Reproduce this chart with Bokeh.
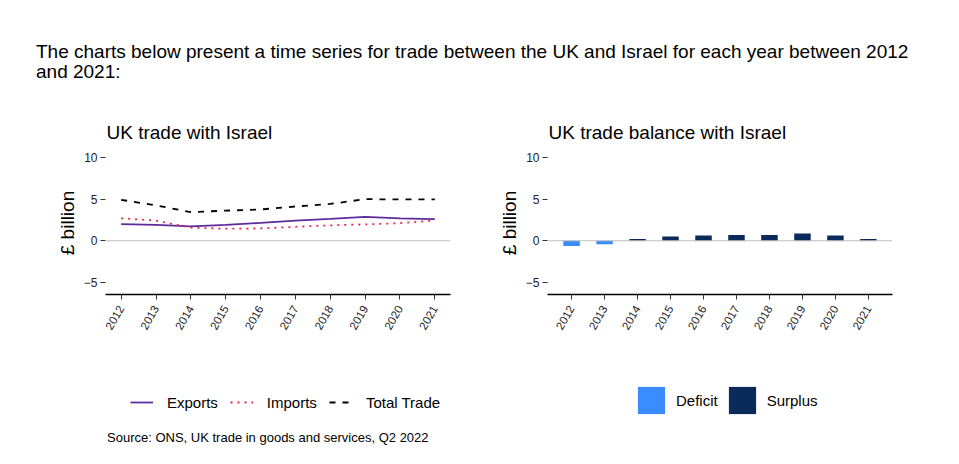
from bokeh.plotting import figure
from bokeh.models import (Div, Span, Legend, LegendItem, FixedTicker, ColumnDataSource,
                          Range1d)
from bokeh.layouts import column, row
from bokeh.transform import factor_cmap
from bokeh.embed import file_html
from bokeh.resources import INLINE

FONT = "Liberation Sans"

years = [2012, 2013, 2014, 2015, 2016, 2017, 2018, 2019, 2020, 2021]
exports = [2.0, 1.9, 1.72, 1.92, 2.15, 2.42, 2.62, 2.88, 2.68, 2.6]
imports = [2.7, 2.42, 1.58, 1.45, 1.48, 1.68, 1.85, 1.97, 2.12, 2.44]
total_trade = [4.92, 4.25, 3.44, 3.62, 3.76, 4.12, 4.42, 5.0, 4.96, 4.96]
balance = [-0.64, -0.42, 0.2, 0.52, 0.64, 0.7, 0.7, 0.88, 0.64, 0.2]
balance_kind = ["Deficit" if b < 0 else "Surplus" for b in balance]
y_ticks = [-5, 0, 5, 10]

TITLE = ("The charts below present a time series for trade between the UK and Israel "
         "for each year between 2012 and 2021:")

EXP_STYLE = dict(line_color="#5e2a9c", line_width=1.8)
IMP_STYLE = dict(line_color="#e8264a", line_width=1.8, line_dash="2 5")
TOT_STYLE = dict(line_color="#000000", line_width=1.8, line_dash="6 7")
BAR_COLORS = factor_cmap("kind", palette=["#3a8cff", "#0b2a5c"], factors=["Deficit", "Surplus"])


def style(p, title):
    p.title.text = title
    p.title.text_font = FONT
    p.title.text_font_size = "19px"
    p.title.text_font_style = "normal"
    p.title.text_color = "#000000"
    p.title.align = "left"
    p.title.offset = 1
    p.title.standoff = 18
    p.outline_line_color = None
    p.xgrid.grid_line_color = None
    p.ygrid.grid_line_color = None
    p.background_fill_color = "white"
    p.border_fill_color = "white"
    xa = p.xaxis[0]
    xa.ticker = FixedTicker(ticks=years)
    xa.axis_line_color = "#000000"
    xa.axis_line_width = 1.5
    xa.major_tick_line_color = "#333333"
    xa.major_tick_out = 5
    xa.major_tick_in = 0
    xa.minor_tick_line_color = None
    xa.major_label_orientation = 1.047
    xa.major_label_text_font = FONT
    xa.major_label_text_font_size = "11.5px"
    xa.major_label_text_color = "#222222"
    xa.major_label_standoff = 7
    ya = p.yaxis[0]
    ya.ticker = FixedTicker(ticks=y_ticks)
    ya.axis_line_color = None
    ya.major_tick_line_color = "#333333"
    ya.major_tick_out = 5
    ya.major_tick_in = 0
    ya.minor_tick_line_color = None
    ya.major_label_text_font = FONT
    ya.major_label_text_font_size = "12px"
    ya.major_label_text_color = "#222222"
    ya.major_label_standoff = 3
    ya.axis_label = "£ billion"
    ya.axis_label_text_font = FONT
    ya.axis_label_text_font_size = "19px"
    ya.axis_label_text_font_style = "normal"
    ya.axis_label_text_color = "#000000"
    ya.axis_label_standoff = 3
    p.add_layout(Span(location=0, dimension="width", line_color="#bdbdbd", line_width=1))


def legend_fig(width):
    f = figure(width=width, height=72, output_backend="svg", toolbar_location=None,
               x_range=Range1d(0, 1), y_range=Range1d(0, 1),
               x_axis_location=None, y_axis_location=None, min_border=0)
    f.outline_line_color = None
    f.xgrid.grid_line_color = None
    f.ygrid.grid_line_color = None
    return f


# ---- left: line chart
p1 = figure(width=488, height=240, output_backend="svg", toolbar_location=None,
            x_range=Range1d(2011.55, 2021.45), y_range=Range1d(-6.45, 10.72),
            min_border_left=105, min_border_right=38, min_border_top=43, min_border_bottom=54)
style(p1, "UK trade with Israel")
p1.line(years, exports, **EXP_STYLE)
p1.line(years, imports, **IMP_STYLE)
p1.line(years, total_trade, **TOT_STYLE)

# legend strip for the left chart (same series, drawn outside its own view)
l1 = legend_fig(488)
r_exp = l1.line(years, exports, **EXP_STYLE)
r_imp = l1.line(years, imports, **IMP_STYLE)
r_tot = l1.line(years, total_trade, **TOT_STYLE)
leg1 = Legend(items=[LegendItem(label="Exports", renderers=[r_exp]),
                     LegendItem(label="Imports", renderers=[r_imp]),
                     LegendItem(label="Total Trade", renderers=[r_tot])],
              orientation="horizontal", location=(130, 8), margin=0, padding=0,
              glyph_width=23, glyph_height=20, label_standoff=14, spacing=12,
              label_text_font=FONT, label_text_font_size="15px", label_text_color="#000000",
              border_line_color=None, background_fill_alpha=0)
l1.add_layout(leg1)

# ---- right: bar chart
src = ColumnDataSource(dict(year=years, value=balance, kind=balance_kind))
p2 = figure(width=463, height=240, output_backend="svg", toolbar_location=None,
            x_range=Range1d(2011.27, 2021.73), y_range=Range1d(-6.45, 10.72),
            min_border_left=59, min_border_right=59, min_border_top=43, min_border_bottom=54)
style(p2, "UK trade balance with Israel")
p2.vbar(x="year", top="value", bottom=0, width=0.5, source=src, line_color=None,
        fill_color=BAR_COLORS)

l2 = legend_fig(463)
r_bar = l2.vbar(x="year", top="value", bottom=0, width=0.5, source=src, line_color=None,
                fill_color=BAR_COLORS)
leg2 = Legend(items=[LegendItem(label="Deficit", renderers=[r_bar], index=0),
                     LegendItem(label="Surplus", renderers=[r_bar], index=2)],
              orientation="horizontal", location=(146, 3), margin=0, padding=0,
              glyph_width=34, glyph_height=34, label_standoff=8, spacing=7,
              label_text_font=FONT, label_text_font_size="15px", label_text_color="#000000",
              border_line_color=None, background_fill_alpha=0)
l2.add_layout(leg2)

title_div = Div(text=TITLE, width=951, height=108, margin=(0, 0, 0, 0),
                styles={"font-family": FONT, "font-size": "19px", "line-height": "20px",
                        "color": "#000000", "padding-top": "42px", "padding-left": "36px",
                        "padding-right": "30px", "box-sizing": "border-box"})
source_div = Div(text="Source: ONS, UK trade in goods and services, Q2 2022", width=600, height=28,
                 margin=(0, 0, 0, 0),
                 styles={"font-family": FONT, "font-size": "13px", "line-height": "16px",
                         "color": "#000000", "padding-top": "10px", "padding-left": "107px"})

layout = column(title_div, row(p1, p2), row(l1, l2), source_div)
open("out.html", "w").write(file_html(layout, INLINE))
